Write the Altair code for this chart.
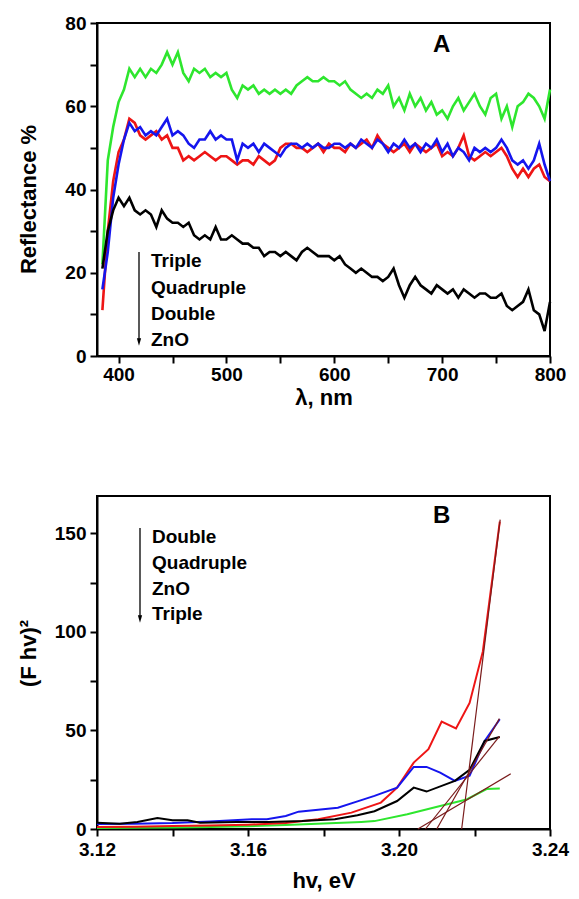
import altair as alt
import pandas as pd

# ---------------- Panel A: reflectance spectra ----------------
wavelength = list(range(385, 801, 5))

refl_triple = [
    22, 47, 55, 61, 64, 69, 67, 69, 67, 69,
    68, 70, 73, 70, 73, 68, 66, 69, 68, 69,
    67, 68, 67, 68, 64, 62, 65, 64, 65, 63,
    64, 63, 64, 63, 64, 63, 65, 66, 67, 66,
    66, 67, 66, 66, 65, 66, 64, 63, 62, 63,
    62, 64, 63, 65, 60, 62, 59, 63, 60, 62,
    59, 61, 58, 59, 57, 60, 62, 59, 61, 63,
    60, 58, 62, 63, 57, 60, 55, 60, 61, 63,
    62, 60, 57, 64]

refl_quadruple = [
    16, 25, 38, 46, 52, 56, 54, 55, 53, 54,
    53, 55, 57, 53, 54, 53, 51, 50, 52, 52,
    54, 52, 53, 52, 52, 47, 51, 50, 51, 49,
    51, 50, 49, 48, 50, 51, 51, 50, 51, 50,
    51, 50, 50, 51, 51, 50, 51, 50, 52, 51,
    50, 52, 51, 49, 51, 50, 52, 50, 51, 49,
    51, 50, 52, 49, 51, 48, 50, 49, 47, 50,
    49, 50, 49, 50, 52, 50, 47, 46, 47, 45,
    47, 51, 46, 42]

refl_double = [
    11, 30, 42, 49, 52, 57, 56, 53, 52, 53,
    54, 52, 53, 50, 50, 47, 48, 47, 48, 49,
    48, 47, 48, 48, 47, 46, 47, 47, 46, 48,
    47, 46, 47, 50, 51, 51, 50, 50, 49, 50,
    51, 49, 51, 50, 50, 49, 51, 50, 51, 52,
    50, 53, 51, 50, 49, 50, 51, 49, 51, 50,
    49, 50, 51, 48, 49, 48, 50, 53, 48, 47,
    48, 49, 48, 49, 50, 48, 45, 43, 45, 43,
    45, 46, 43, 42]

refl_zno = [
    21, 30, 35, 38, 36, 38, 35, 34, 35, 34,
    31, 35, 33, 32, 32, 31, 32, 29, 28, 29,
    28, 31, 28, 28, 29, 28, 27, 27, 26, 26,
    24, 25, 25, 24, 25, 24, 23, 25, 26, 25,
    24, 24, 24, 23, 24, 22, 21, 20, 21, 20,
    19, 19, 18, 19, 21, 17, 14, 17, 19, 17,
    16, 15, 17, 16, 15, 16, 14, 16, 15, 14,
    15, 15, 14, 14, 15, 12, 11, 12, 13, 16,
    11, 10, 6, 13]

# ---------------- Panel B: Tauc plot ----------------
hv_double = [3.12, 3.13, 3.14, 3.15, 3.16, 3.17, 3.1786, 3.1874, 3.1952,
             3.1995, 3.2039, 3.2078, 3.2113, 3.2151, 3.2187, 3.2222, 3.2267]
f_double = [1.0, 1.2, 1.5, 1.8, 2.2, 3.0, 5.0, 8.3, 13.4,
            21.0, 33.7, 40.5, 54.5, 51.0, 64.0, 90.0, 156.0]

hv_quadruple = [3.12, 3.13, 3.14, 3.15, 3.161, 3.165, 3.17, 3.1734, 3.1838, 3.189,
                3.1935, 3.1995, 3.2039, 3.2073, 3.2109, 3.2148, 3.2187, 3.2227, 3.2267]
f_quadruple = [2.5, 2.7, 3.0, 3.8, 5.0, 5.0, 6.6, 8.8, 10.8, 14.0,
               16.8, 21.0, 31.5, 31.5, 28.6, 24.4, 27.0, 44.7, 55.7]

hv_zno = [3.12, 3.126, 3.1307, 3.136, 3.14, 3.144, 3.1473, 3.1569, 3.1655, 3.1743,
          3.183, 3.189, 3.1935, 3.1995, 3.2039, 3.2073, 3.2148, 3.2187, 3.2227, 3.2267]
f_zno = [3.2, 2.7, 3.5, 5.6, 4.4, 4.4, 3.2, 3.5, 3.5, 4.0,
         5.0, 7.0, 9.0, 14.2, 21.0, 19.0, 24.4, 30.0, 44.7, 46.7]

hv_triple = [3.12, 3.13, 3.14, 3.15, 3.16, 3.17, 3.18, 3.19, 3.1935,
             3.2022, 3.2109, 3.2179, 3.2232, 3.2267]
f_triple = [0.5, 0.6, 0.8, 1.0, 1.4, 2.0, 2.8, 3.6, 4.0,
            7.5, 11.7, 15.0, 20.3, 20.5]

# tangent (extrapolation) lines: start and end points
tan_x1 = [3.2166, 3.205, 3.207, 3.210]
tan_y1 = [0, 0, 0, 0]
tan_x2 = [3.2268, 3.2296, 3.2266, 3.2266]
tan_y2 = [157, 28, 47, 56]

series_names = ["Triple", "Double", "Quadruple", "ZnO"]
series_colors = {"Triple": "#2ee62e", "Double": "#ee1515", "Quadruple": "#1515ee", "ZnO": "#000000"}

FONT = "Liberation Sans"
W, H = 453, 333

one = pd.DataFrame({"k": [0]})


def label_layer(txt, x, y, size=19):
    return alt.Chart(one).mark_text(
        align="left", baseline="middle", font=FONT, fontWeight="bold",
        fontSize=size, color="black"
    ).encode(x=alt.value(x), y=alt.value(y), text=alt.value(txt))


def arrow_layers(x, y1, y2):
    shaft = alt.Chart(one).mark_rule(color="black", strokeWidth=1.3).encode(
        x=alt.value(x), y=alt.value(y1), y2=alt.value(y2 - 6))
    head = alt.Chart(one).mark_point(
        shape="M -0.55 -1 L 0.55 -1 L 0 1 Z", filled=True, size=60,
        color="black", opacity=1, strokeWidth=0
    ).encode(x=alt.value(x), y=alt.value(y2 - 3))
    return [shaft, head]


# ---- Panel A ----
refl = {"Triple": refl_triple, "Quadruple": refl_quadruple,
        "Double": refl_double, "ZnO": refl_zno}

xa = alt.X("wl:Q", scale=alt.Scale(domain=[380, 800], nice=False, zero=False),
           axis=alt.Axis(values=list(range(400, 801, 50)),
                         labelExpr="datum.value % 100 == 0 ? datum.label : ''",
                         labelPadding=2,
                         title="λ, nm", titleY=41, titleBaseline="middle"))
ya = alt.Y("r:Q", scale=alt.Scale(domain=[0, 80], nice=False),
           axis=alt.Axis(values=list(range(0, 81, 10)),
                         labelExpr="datum.value % 20 == 0 ? datum.label : ''",
                         title="Reflectance %", titleX=-69, titleY=176,
                         titleBaseline="middle", titleAngle=270))

layers_a = []
for name in series_names:
    df = pd.DataFrame({"wl": wavelength, "r": refl[name]})
    layers_a.append(alt.Chart(df).mark_line(color=series_colors[name], strokeWidth=2.6).encode(x=xa, y=ya))

layers_a += arrow_layers(42, 229, 322)
for txt, yy in zip(["Triple", "Quadruple", "Double", "ZnO"], [238, 265, 291, 317]):
    layers_a.append(label_layer(txt, 54, yy))
layers_a.append(label_layer("A", 336, 22, size=24))

chart_a = alt.layer(*layers_a).properties(width=W, height=H)

# ---- Panel B ----
xb = alt.X("hv:Q", scale=alt.Scale(domain=[3.12, 3.24], nice=False, zero=False),
           axis=alt.Axis(values=[3.12, 3.14, 3.16, 3.18, 3.20, 3.22, 3.24],
                         labelExpr="round(datum.value * 100) % 4 == 0 ? format(datum.value, '.2f') : ''",
                         labelPadding=4,
                         title="hv, eV", titleY=51, titleBaseline="middle"))
yb = alt.Y("f:Q", scale=alt.Scale(domain=[0, 169], nice=False),
           axis=alt.Axis(values=[0, 25, 50, 75, 100, 125, 150],
                         labelExpr="datum.value % 50 == 0 ? datum.label : ''",
                         title="(F hv)²", titleX=-69, titleY=157,
                         titleBaseline="middle", titleAngle=270))

tauc = {"Triple": (hv_triple, f_triple), "Double": (hv_double, f_double),
        "Quadruple": (hv_quadruple, f_quadruple), "ZnO": (hv_zno, f_zno)}

layers_b = []
for name in series_names:
    hx, fy = tauc[name]
    df = pd.DataFrame({"hv": hx, "f": fy})
    layers_b.append(alt.Chart(df).mark_line(color=series_colors[name], strokeWidth=2).encode(x=xb, y=yb))

tan_df = pd.DataFrame({"hv": tan_x1, "f": tan_y1, "hv2": tan_x2, "f2": tan_y2})
layers_b.append(alt.Chart(tan_df).mark_rule(color="#7a1c1c", strokeWidth=1.2).encode(
    x=xb, y=yb, x2="hv2:Q", y2="f2:Q"))

layers_b += arrow_layers(43, 32, 126)
for txt, yy in zip(["Double", "Quadruple", "ZnO", "Triple"], [41, 67, 93, 118]):
    layers_b.append(label_layer(txt, 55, yy))
layers_b.append(label_layer("B", 336, 20, size=24))

chart_b = alt.layer(*layers_b).properties(width=W, height=H)

chart = alt.vconcat(chart_a, chart_b, spacing=86).properties(
    padding={"left": 8, "top": 5, "right": 0, "bottom": 0}
).configure_view(
    stroke="black", strokeWidth=2
).configure_axis(
    grid=False, domainColor="black", domainWidth=2, tickColor="black",
    tickWidth=2, tickSize=7, labelFont=FONT, labelFontWeight="bold",
    labelFontSize=19, labelColor="black", labelPadding=4,
    titleFont=FONT, titleFontWeight="bold", titleFontSize=22,
    titleColor="black", labelOverlap=False, labelBound=False, labelFlush=False
)

chart.save("out.html", embed_options={"renderer": "svg", "actions": False})
